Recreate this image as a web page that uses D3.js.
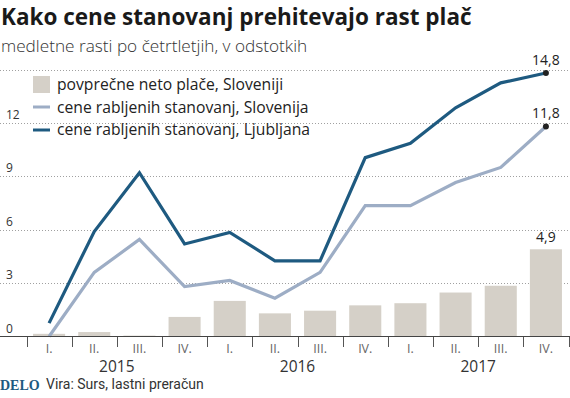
<!DOCTYPE html>
<html>
<head>
<meta charset="utf-8">
<script src="https://cdn.jsdelivr.net/npm/d3@7"></script>
<style>
  body { margin: 0; background: #fff; }
  svg { display: block; font-family: "Open Sans", "Noto Sans", sans-serif; }
  .grid line { stroke: #a0a0a0; stroke-dasharray: 1,2; }
</style>
</head>
<body>
<div id="chart"></div>
<script>
// quarters and years
var quarters = ["I.", "II.", "III.", "IV.", "I.", "II.", "III.", "IV.", "I.", "II.", "III.", "IV."];
var years = ["2015", "2016", "2017"];
var yTicks = [0, 3, 6, 9, 12, 15];

// series (percent, year on year)
var wages = [0.15, 0.25, 0.05, 1.1, 2.0, 1.3, 1.45, 1.75, 1.87, 2.47, 2.85, 4.9];
var slovenia = [0.0, 3.6, 5.45, 2.8, 3.15, 2.15, 3.6, 7.35, 7.35, 8.65, 9.5, 11.8];
var ljubljana = [0.75, 5.9, 9.2, 5.2, 5.85, 4.25, 4.25, 10.05, 10.85, 12.85, 14.25, 14.8];

var legendLabels = ["povprečne neto plače, Sloveniji", "cene rabljenih stanovanj, Slovenija", "cene rabljenih stanovanj, Ljubljana"];

var W = 570, H = 398;
var colBar = "#d5d0c8", colLight = "#9dadc5", colDark = "#1e5a80";

var svg = d3.select("#chart").append("svg")
  .attr("width", W).attr("height", H);

var idx = d3.range(quarters.length);
var x = d3.scaleBand().domain(idx).range([26.5, 568.5]).paddingInner(0.29).paddingOuter(0.145);
var y = d3.scaleLinear().domain([0, 15]).range([336.5, 69.5]);

// title
svg.append("text").attr("x", 1).attr("y", 25)
  .style("font-size", "22.5px").style("font-weight", "bold").style("fill", "#1a1a1a")
  .text("Kako cene stanovanj prehitevajo rast plač");
svg.append("text").attr("x", 1).attr("y", 52)
  .style("font-size", "17.2px").style("font-weight", "300").style("fill", "#333")
  .text("medletne rasti po četrtletjih, v odstotkih");

// grid
var grid = svg.append("g").attr("class", "grid");
grid.selectAll("line").data(yTicks.slice(1)).enter().append("line")
  .attr("x1", 0).attr("x2", W)
  .attr("y1", function(d) { return Math.round(y(d)) + 0.5; })
  .attr("y2", function(d) { return Math.round(y(d)) + 0.5; });
svg.selectAll(".ylab").data(yTicks.slice(0, 5)).enter().append("text")
  .attr("class", "ylab")
  .attr("x", 6).attr("y", function(d) { return y(d) - 4; })
  .style("font-size", "12px").style("fill", "#333")
  .text(function(d) { return d; });

// bars
svg.selectAll(".bar").data(wages).enter().append("rect")
  .attr("class", "bar")
  .attr("x", function(d, i) { return x(i); })
  .attr("width", x.bandwidth())
  .attr("y", function(d) { return y(d); })
  .attr("height", function(d) { return y(0) - y(d); })
  .style("fill", colBar);

// lines
var line = d3.line()
  .x(function(d, i) { return x(i) + x.bandwidth() / 2; })
  .y(function(d) { return y(d); });

svg.append("path").datum(slovenia).attr("d", line)
  .style("fill", "none").style("stroke", colLight).style("stroke-width", 3.2)
  .style("stroke-linejoin", "miter");
svg.append("path").datum(ljubljana).attr("d", line)
  .style("fill", "none").style("stroke", colDark).style("stroke-width", 3.2)
  .style("stroke-linejoin", "miter");

// end points and labels
var last = quarters.length - 1;
[ljubljana, slovenia].forEach(function(s) {
  svg.append("circle").attr("cx", x(last) + x.bandwidth() / 2).attr("cy", y(s[last]))
    .attr("r", 3).style("fill", "#222");
  svg.append("text").attr("x", x(last) + x.bandwidth() / 2).attr("y", y(s[last]) - 8)
    .attr("text-anchor", "middle").style("font-size", "14px").style("fill", "#222")
    .text(String(s[last]).replace(".", ","));
});
svg.append("text").attr("x", x(last) + x.bandwidth() / 2).attr("y", y(wages[last]) - 7)
  .attr("text-anchor", "middle").style("font-size", "14px").style("fill", "#222")
  .text(String(wages[last]).replace(".", ","));

// x axis
svg.append("line").attr("x1", 0).attr("x2", W)
  .attr("y1", 336.5).attr("y2", 336.5).style("stroke", "#444").style("stroke-width", 1);
var edges = d3.range(quarters.length + 1).map(function(i) {
  return i < quarters.length ? x(i) - x.step() * x.paddingInner() / 2 : x(i - 1) + x.bandwidth() + x.step() * x.paddingInner() / 2;
});
svg.selectAll(".tick").data(edges).enter().append("line")
  .attr("x1", function(d) { return Math.round(d) + 0.5; })
  .attr("x2", function(d) { return Math.round(d) + 0.5; })
  .attr("y1", 337).attr("y2", 347).style("stroke", "#555");
svg.selectAll(".qlab").data(quarters).enter().append("text")
  .attr("x", function(d, i) { return x(i) + x.bandwidth() / 2; })
  .attr("y", 353).attr("text-anchor", "middle")
  .style("font-size", "12.5px").style("fill", "#666")
  .text(function(d) { return d; });
svg.selectAll(".ylabel").data(years).enter().append("text")
  .attr("x", function(d, i) { return edges[i * 4 + 2]; })
  .attr("y", 372).attr("text-anchor", "middle")
  .style("font-size", "15.5px").style("fill", "#333")
  .text(function(d) { return d; });

// legend
var lg = svg.append("g").attr("transform", "translate(33,0)");
lg.append("rect").attr("x", 0).attr("y", 76).attr("width", 17).attr("height", 17).style("fill", colBar);
lg.append("line").attr("x1", 0).attr("x2", 17).attr("y1", 107).attr("y2", 107)
  .style("stroke", colLight).style("stroke-width", 3);
lg.append("line").attr("x1", 0).attr("x2", 17).attr("y1", 130).attr("y2", 130)
  .style("stroke", colDark).style("stroke-width", 3);
lg.selectAll(".lt").data(legendLabels).enter().append("text")
  .attr("x", 24).attr("y", function(d, i) { return 90 + i * 22.5; })
  .style("font-size", "15.7px").style("fill", "#222")
  .text(function(d) { return d; });

// footer
svg.append("text").attr("x", 0).attr("y", 390)
  .style("font-family", "'Liberation Serif', serif").style("font-weight", "bold")
  .style("font-size", "14px").style("fill", colDark).text("DELO");
svg.append("text").attr("x", 46).attr("y", 389)
  .style("font-family", "'Liberation Sans Narrow', 'Roboto', sans-serif")
  .style("font-size", "14px").style("fill", "#333").text("Vira: Surs, lastni preračun");
</script>
</body>
</html>
